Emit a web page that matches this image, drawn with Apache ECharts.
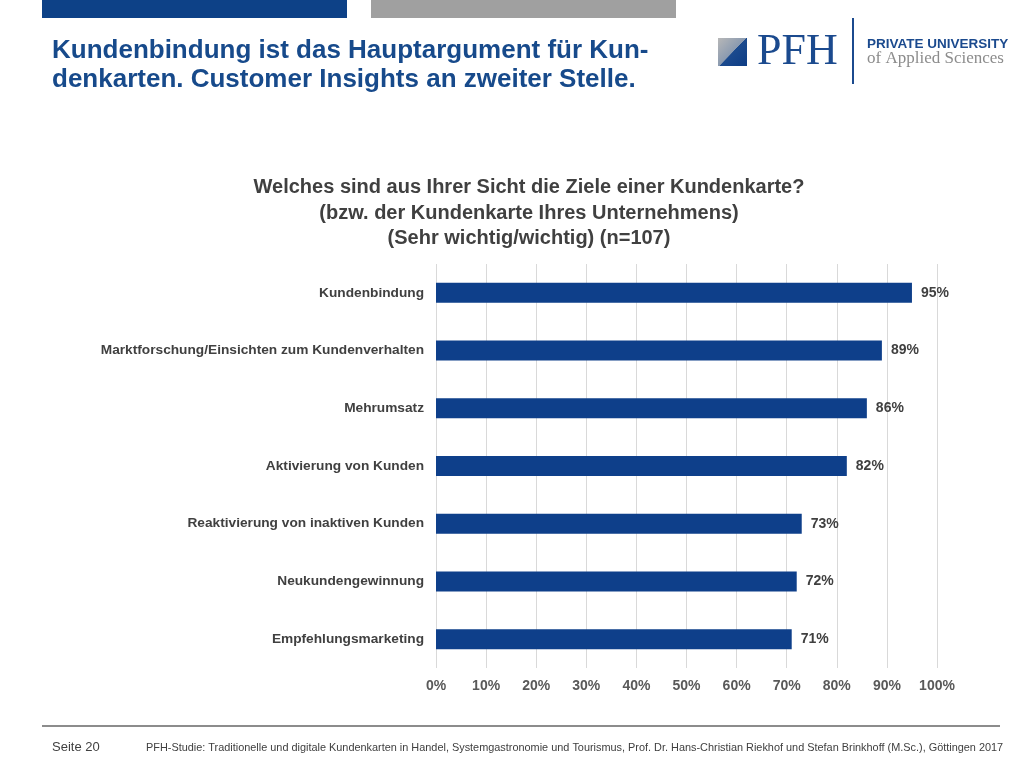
<!DOCTYPE html>
<html>
<head>
<meta charset="utf-8">
<title>Ziele einer Kundenkarte</title>
<script src="https://cdn.jsdelivr.net/npm/echarts@6/dist/echarts.min.js"></script>
<style>
  html, body { margin: 0; padding: 0; background: #fff; }
  #chart { width: 1030px; height: 769px; }
</style>
</head>
<body>
<div id="chart"></div>
<script>
// Daten
var categories = [
    'Kundenbindung',
    'Marktforschung/Einsichten zum Kundenverhalten',
    'Mehrumsatz',
    'Aktivierung von Kunden',
    'Reaktivierung von inaktiven Kunden',
    'Neukundengewinnung',
    'Empfehlungsmarketing'
];
var values = [95, 89, 86, 82, 73, 72, 71];
var tickStep = 10;

var blue = '#0e3f8a';
var grey = '#404040';
var font = '"Liberation Sans", Arial, sans-serif';

var myChart = echarts.init(document.getElementById('chart'));

var option = {
    backgroundColor: '#ffffff',
    animation: false,
    title: {
        text: 'Welches sind aus Ihrer Sicht die Ziele einer Kundenkarte?\n(bzw. der Kundenkarte Ihres Unternehmens)\n(Sehr wichtig/wichtig) (n=107)',
        left: 524,
        top: 170,
        textAlign: 'center',
        textStyle: {
            fontFamily: font,
            fontSize: 20,
            fontWeight: 'bold',
            color: grey,
            lineHeight: 25.5,
            align: 'center'
        }
    },
    grid: {
        left: 436,
        right: 93,
        top: 264,
        bottom: 101,
        containLabel: false
    },
    xAxis: {
        type: 'value',
        min: 0,
        max: 100,
        interval: tickStep,
        axisLine: { show: false },
        axisTick: { show: false },
        splitLine: { lineStyle: { color: '#d9d9d9', width: 1 } },
        axisLabel: {
            formatter: '{value}%',
            fontFamily: font,
            fontSize: 14,
            fontWeight: 'bold',
            color: '#595959',
            margin: 11
        }
    },
    yAxis: {
        type: 'category',
        inverse: true,
        data: categories,
        axisLine: { show: false },
        axisTick: { show: false },
        axisLabel: {
            fontFamily: font,
            fontSize: 13.7,
            fontWeight: 'bold',
            color: grey,
            margin: 12
        }
    },
    series: [{
        name: 'Sehr wichtig/wichtig',
        type: 'bar',
        data: values,
        barWidth: 20,
        itemStyle: { color: blue },
        label: {
            show: true,
            position: 'right',
            distance: 9,
            formatter: '{c}%',
            fontFamily: font,
            fontSize: 14,
            fontWeight: 'bold',
            color: grey
        }
    }],
    graphic: [
        // Kopfleisten
        { type: 'rect', shape: { x: 42, y: 0, width: 305, height: 18 }, style: { fill: '#0d4187' } },
        { type: 'rect', shape: { x: 371, y: 0, width: 305, height: 18 }, style: { fill: '#a0a0a0' } },
        // Überschrift
        {
            type: 'text', left: 52, top: 36,
            style: {
                text: 'Kundenbindung ist das Hauptargument für Kun-\ndenkarten. Customer Insights an zweiter Stelle.',
                font: 'bold 26px ' + font,
                fill: '#174a8b',
                lineHeight: 29
            }
        },
        // Logo
        {
            type: 'rect', shape: { x: 718, y: 38, width: 29, height: 28 },
            style: {
                fill: new echarts.graphic.LinearGradient(0, 0, 1, 1, [
                    { offset: 0, color: '#b8b8b8' },
                    { offset: 0.5, color: '#8a9ab0' },
                    { offset: 0.51, color: '#1b4a8e' },
                    { offset: 1, color: '#0d3d85' }
                ])
            }
        },
        {
            type: 'text', left: 757, top: 30,
            style: { text: 'PFH', font: '44px "Liberation Serif", "DejaVu Serif", serif', fill: '#1b4a8e' }
        },
        { type: 'line', shape: { x1: 853, y1: 18, x2: 853, y2: 84 }, style: { stroke: '#1b4a8e', lineWidth: 2 } },
        {
            type: 'text', left: 867, top: 37,
            style: { text: 'PRIVATE UNIVERSITY', font: 'bold 13.5px ' + font, fill: '#1b4a8e' }
        },
        {
            type: 'text', left: 867, top: 50,
            style: { text: 'of Applied Sciences', font: '17px "Liberation Serif", serif', fill: '#8c8c8c' }
        },
        // Fußzeile
        { type: 'line', shape: { x1: 42, y1: 726, x2: 1000, y2: 726 }, style: { stroke: '#8c8c8c', lineWidth: 2 } },
        {
            type: 'text', left: 52, top: 741,
            style: { text: 'Seite 20', font: '13px ' + font, fill: grey }
        },
        {
            type: 'text', left: 146, top: 742,
            style: {
                text: 'PFH-Studie: Traditionelle und digitale Kundenkarten in Handel, Systemgastronomie und Tourismus, Prof. Dr. Hans-Christian Riekhof und Stefan Brinkhoff (M.Sc.), Göttingen 2017',
                font: '10.9px ' + font,
                fill: grey
            }
        }
    ]
};

myChart.setOption(option);
</script>
</body>
</html>
